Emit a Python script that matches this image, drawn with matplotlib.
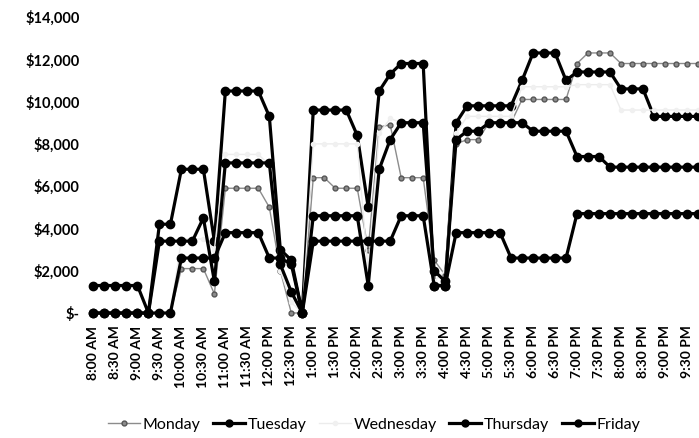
import matplotlib
matplotlib.use("Agg")
import matplotlib.pyplot as plt
from matplotlib.ticker import FuncFormatter

# 15-minute slots from 8:00 AM to 9:45 PM
slots = ["8:00 AM", "8:15 AM", "8:30 AM", "8:45 AM", "9:00 AM", "9:15 AM", "9:30 AM", "9:45 AM",
         "10:00 AM", "10:15 AM", "10:30 AM", "10:45 AM", "11:00 AM", "11:15 AM", "11:30 AM", "11:45 AM",
         "12:00 PM", "12:15 PM", "12:30 PM", "12:45 PM", "1:00 PM", "1:15 PM", "1:30 PM", "1:45 PM",
         "2:00 PM", "2:15 PM", "2:30 PM", "2:45 PM", "3:00 PM", "3:15 PM", "3:30 PM", "3:45 PM",
         "4:00 PM", "4:15 PM", "4:30 PM", "4:45 PM", "5:00 PM", "5:15 PM", "5:30 PM", "5:45 PM",
         "6:00 PM", "6:15 PM", "6:30 PM", "6:45 PM", "7:00 PM", "7:15 PM", "7:30 PM", "7:45 PM",
         "8:00 PM", "8:15 PM", "8:30 PM", "8:45 PM", "9:00 PM", "9:15 PM", "9:30 PM", "9:45 PM"]

monday = [0, 0, 0, 0, 0, 0, 0, 0, 2100, 2100, 2100, 900, 5900, 5900, 5900, 5900,
          5000, 2000, 0, 0, 6400, 6400, 5900, 5900, 5900, 3000, 8800, 8900, 6400, 6400,
          6400, 2500, 1800, 8000, 8200, 8200, 9000, 9000, 9000, 10100, 10100, 10100, 10100, 10100,
          11800, 12300, 12300, 12300, 11800, 11800, 11800, 11800, 11800, 11800, 11800, 11800]
tuesday = [1300, 1300, 1300, 1300, 1300, 0, 4200, 4200, 6800, 6800, 6800, 3400, 10500, 10500, 10500, 10500,
           9300, 3000, 2500, 0, 9600, 9600, 9600, 9600, 8400, 5000, 10500, 11300, 11800, 11800,
           11800, 1300, 1300, 9000, 9800, 9800, 9800, 9800, 9800, 11000, 12300, 12300, 12300, 11000,
           11400, 11400, 11400, 11400, 10600, 10600, 10600, 9300, 9300, 9300, 9300, 9300]
wednesday = [0, 0, 0, 0, 0, 0, 0, 0, 3500, 3500, 3500, 3000, 7500, 7500, 7500, 7500,
             7000, 2000, 500, 0, 8000, 8000, 8000, 8000, 8000, 2000, 8500, 9200, 9000, 9000,
             9000, 1500, 2000, 8500, 9300, 9300, 9300, 9300, 9300, 10700, 10700, 10700, 10700, 10700,
             10800, 10800, 10800, 10800, 9600, 9600, 9600, 9600, 9600, 9600, 9600, 9600]
thursday = [0, 0, 0, 0, 0, 0, 3400, 3400, 3400, 3400, 4500, 1500, 7100, 7100, 7100, 7100,
            7100, 2300, 1000, 0, 4600, 4600, 4600, 4600, 4600, 1300, 6800, 8200, 9000, 9000,
            9000, 2000, 1500, 8200, 8600, 8600, 9000, 9000, 9000, 9000, 8600, 8600, 8600, 8600,
            7400, 7400, 7400, 6900, 6900, 6900, 6900, 6900, 6900, 6900, 6900, 6900]
friday = [0, 0, 0, 0, 0, 0, 0, 0, 2600, 2600, 2600, 2600, 3800, 3800, 3800, 3800,
          2600, 2600, 2300, 0, 3400, 3400, 3400, 3400, 3400, 3400, 3400, 3400, 4600, 4600,
          4600, 1300, 1300, 3800, 3800, 3800, 3800, 3800, 2600, 2600, 2600, 2600, 2600, 2600,
          4700, 4700, 4700, 4700, 4700, 4700, 4700, 4700, 4700, 4700, 4700, 4700]

y_ticks = [0, 2000, 4000, 6000, 8000, 10000, 12000, 14000]

font = "Lato"
fig = plt.figure(figsize=(6.99, 4.38), dpi=100)
ax = fig.add_axes([88 / 699, (438 - 313) / 438, 1 - 88 / 699, (313 - 17) / 438])

x = list(range(len(slots)))
styles = [
    ("Monday", monday, dict(color="#8c8c8c", lw=1.0, marker="o", ms=3.5, mfc="#8c8c8c", mec="#555555")),
    ("Tuesday", tuesday, dict(color="black", lw=2.3, marker="o", ms=6)),
    ("Wednesday", wednesday, dict(color="#ececec", lw=1.0, marker="o", ms=3, mec="#f0f0f0", mfc="#f0f0f0")),
    ("Thursday", thursday, dict(color="black", lw=2.3, marker="o", ms=6)),
    ("Friday", friday, dict(color="black", lw=2.3, marker="o", ms=6)),
]
order = [2, 0, 4, 3, 1]
lines = {}
for k in order:
    name, vals, st = styles[k]
    ln, = ax.plot(x, vals, label=name, clip_on=False, zorder=3 + k, **st)
    lines[name] = ln

ax.set_xlim(-0.5, 55.1)
ax.set_ylim(0, 14000)
ax.set_yticks(y_ticks)
ax.yaxis.set_major_formatter(FuncFormatter(lambda v, p: "$-" if v == 0 else "${:,.0f}".format(v)))
ax.set_xticks(x[::2])
ax.set_xticklabels(slots[::2], rotation=90, fontsize=10, fontfamily=font, fontweight="bold")
for lab in ax.get_yticklabels():
    lab.set_fontfamily(font)
    lab.set_fontweight("bold")
    lab.set_fontsize(10.5)
ax.tick_params(axis="y", length=0, pad=6)
ax.tick_params(axis="x", length=0, pad=9)
for s in ax.spines.values():
    s.set_visible(False)

names = ["Monday", "Tuesday", "Wednesday", "Thursday", "Friday"]
leg_handles = [lines[n] for n in names]
leg = fig.legend(leg_handles, names, loc="center", bbox_to_anchor=(0.535, 0.03),
                 ncol=5, frameon=False, handlelength=2.0, handletextpad=0.15, columnspacing=0.8,
                 prop=dict(family=font, size=11.5))
for h in leg.legend_handles:
    if h.get_color() == "black":
        h.set_markersize(5)

fig.savefig("out.png", dpi=100)
